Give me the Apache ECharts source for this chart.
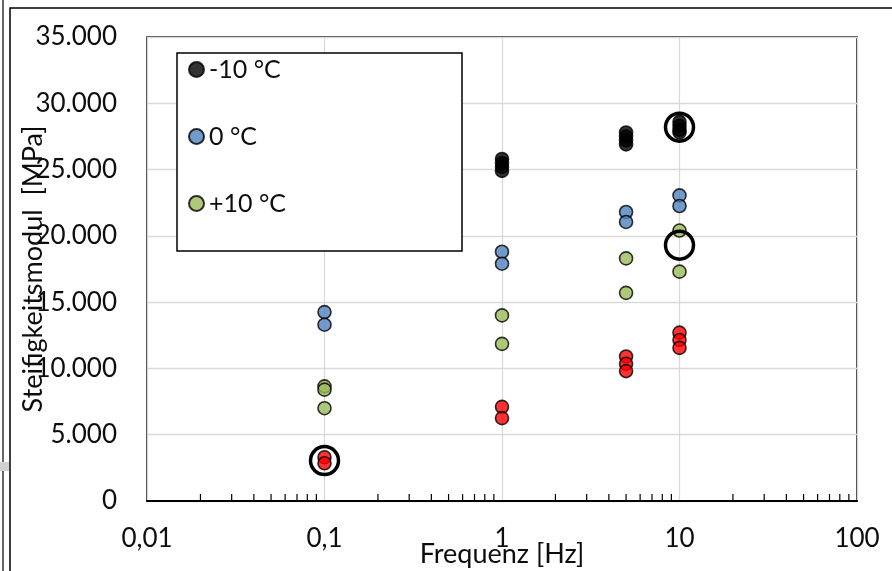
<!DOCTYPE html>
<html>
<head>
<meta charset="utf-8">
<script src="https://cdn.jsdelivr.net/npm/echarts@6/dist/echarts.min.js"></script>
<style>
  html, body { margin: 0; padding: 0; background: #fff; }
  #chart { width: 892px; height: 571px; }
</style>
</head>
<body>
<div id="chart"></div>
<script>
// Measuring frequencies [Hz]
const frequencies = [0.1, 1, 5, 10];

// Stiffness modulus [MPa] per frequency, one list per temperature
const stiffMinus10 = [[], [25800, 25500, 25200, 24900], [27800, 27500, 27200, 26900], [28600, 28300, 28000, 27800]];
const stiffZero    = [[14250, 13300], [18800, 17900], [21800, 21050], [23050, 22250]];
const stiffPlus10  = [[8650, 8400, 7000], [14000, 11850], [18300, 15700], [20400, 17300]];
const stiffRed     = [[3300, 2850], [7100, 6250], [10900, 10350, 9800], [12700, 12150, 11550]];

// Highlighted measurements (frequency, modulus)
const highlightFreq = [0.1, 10, 10];
const highlightStiff = [3050, 28200, 19300];

// Axis ticks
const xTicks = [0.01, 0.1, 1, 10, 100];
const xMinorTicks = [0.02, 0.03, 0.04, 0.05, 0.06, 0.07, 0.08, 0.09,
                     0.2, 0.3, 0.4, 0.5, 0.6, 0.7, 0.8, 0.9,
                     2, 3, 4, 5, 6, 7, 8, 9,
                     20, 30, 40, 50, 60, 70, 80, 90];
const yMax = 35000, yStep = 5000;

const legendNames = ['-10 °C', '0 °C', '+10 °C'];

function toPairs(values) {
  const out = [];
  values.forEach((list, i) => list.forEach(v => out.push([frequencies[i], v])));
  return out;
}

const FONT = 'Lato';
const TEXT = '#0d0d0d';
const pointStyle = (color) => ({ color: color, borderColor: '#000', borderWidth: 1.6 });

const chart = echarts.init(document.getElementById('chart'));
chart.setOption({
  animation: false,
  backgroundColor: '#fff',
  textStyle: { fontFamily: FONT },
  grid: {
    left: 147, right: 35, top: 37, bottom: 70,
    outerBoundsMode: 'none', containLabel: false,
    show: true, borderColor: '#000', borderWidth: 1.5, backgroundColor: 'transparent'
  },
  xAxis: {
    type: 'log', logBase: 10, min: xTicks[0], max: xTicks[xTicks.length - 1],
    name: 'Frequenz [Hz]', nameLocation: 'middle', nameGap: 40, nameMoveOverlap: false,
    nameTextStyle: { fontSize: 27, color: TEXT, fontFamily: FONT },
    axisLine: { show: true, lineStyle: { color: '#000', width: 2 } },
    axisTick: { show: false },
    axisLabel: {
      fontSize: 26, color: TEXT, margin: 25, fontFamily: FONT,
      formatter: v => String(Number(v.toPrecision(6))).replace('.', ',')
    },
    splitLine: { show: true, lineStyle: { color: '#d9d9d9', width: 1.3 } }
  },
  yAxis: {
    type: 'value', min: 0, max: yMax, interval: yStep,
    name: 'Steifigkeitsmodul  [MPa]', nameLocation: 'middle', nameGap: 100, nameMoveOverlap: false,
    nameTextStyle: { fontSize: 27, color: TEXT, fontFamily: FONT },
    axisLine: { show: false },
    axisTick: { show: false },
    axisLabel: {
      fontSize: 26, color: TEXT, margin: 30, fontFamily: FONT,
      formatter: v => v === 0 ? '0' : (v / 1000).toFixed(3)
    },
    splitLine: { show: true, lineStyle: { color: '#d9d9d9', width: 1.3 } }
  },
  legend: {
    data: legendNames,
    orient: 'vertical', left: 183, top: 52,
    itemWidth: 15, itemHeight: 15, itemGap: 42,
    icon: 'circle',
    textStyle: { fontSize: 25, lineHeight: 25, color: TEXT, fontFamily: FONT },
    z: 5
  },
  graphic: [
    // legend frame
    { type: 'rect', z: 3, shape: { x: 177, y: 53, width: 285, height: 198 },
      style: { fill: '#fff', stroke: '#000', lineWidth: 1.5 } },
    // outer chart border
    { type: 'rect', z: 1, shape: { x: 10, y: 8, width: 890, height: 570 },
      style: { fill: 'none', stroke: '#000', lineWidth: 1.5 } },
    { type: 'line', z: 1, shape: { x1: 3, y1: 0, x2: 3, y2: 571 },
      style: { stroke: '#000', lineWidth: 1.2 } },
    { type: 'rect', z: 1, shape: { x: 0, y: 462, width: 9, height: 9 },
      style: { fill: '#d0d0d0' } }
  ],
  series: [
    {
      name: legendNames[0], type: 'scatter', symbol: 'circle', symbolSize: 13,
      itemStyle: pointStyle('#000000'), data: toPairs(stiffMinus10), z: 3
    },
    {
      name: legendNames[1], type: 'scatter', symbol: 'circle', symbolSize: 13,
      itemStyle: pointStyle('#4f81bd'), data: toPairs(stiffZero), z: 3
    },
    {
      name: legendNames[2], type: 'scatter', symbol: 'circle', symbolSize: 13,
      itemStyle: pointStyle('#9bbb59'), data: toPairs(stiffPlus10), z: 3
    },
    {
      name: 'Reihe 4', type: 'scatter', symbol: 'circle', symbolSize: 13,
      itemStyle: pointStyle('#ff0000'), data: toPairs(stiffRed), z: 3
    },
    {
      name: 'Markierung', type: 'scatter', symbol: 'circle', symbolSize: 28,
      itemStyle: { color: 'rgba(0,0,0,0)', borderColor: '#000', borderWidth: 3.5, opacity: 1 },
      data: highlightFreq.map((f, i) => [f, highlightStiff[i]]), z: 4
    },
    {
      // minor ticks of the logarithmic frequency axis
      name: 'Teilstriche', type: 'custom', silent: true, z: 5,
      data: xMinorTicks.map(v => [v, 0]),
      renderItem: (params, api) => {
        const p = api.coord([api.value(0), 0]);
        return {
          type: 'line',
          shape: { x1: p[0], y1: p[1], x2: p[0], y2: p[1] - 7 },
          style: { stroke: '#000', lineWidth: 1.2 }
        };
      }
    }
  ]
});
</script>
</body>
</html>
